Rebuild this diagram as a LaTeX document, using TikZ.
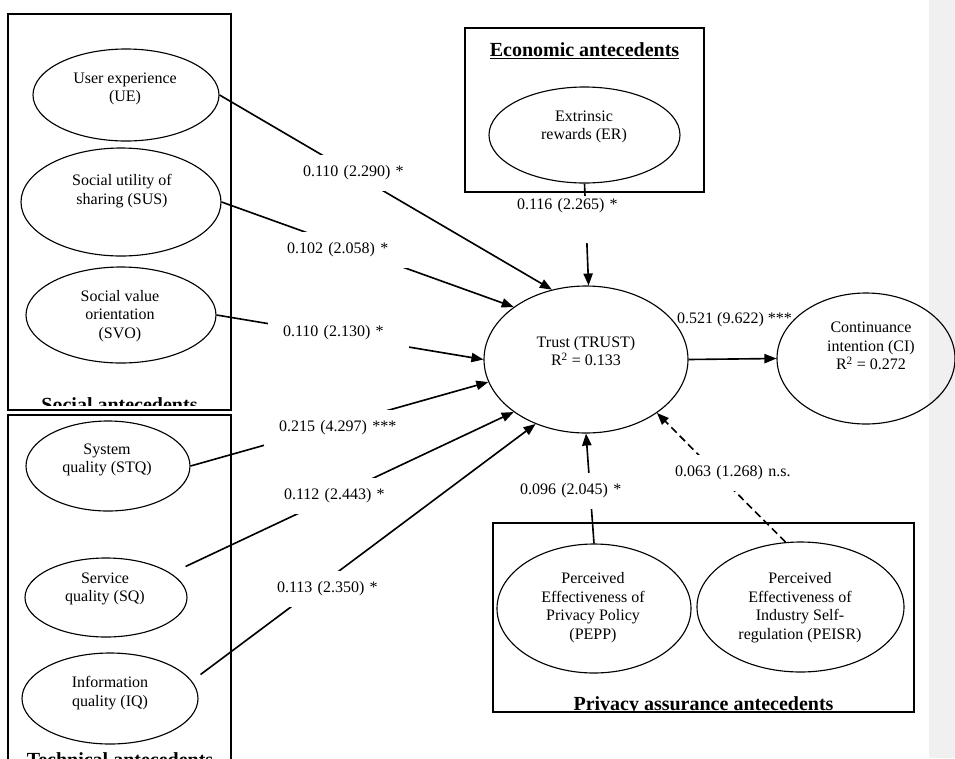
\documentclass[tikz,border=0pt]{standalone}
\usepackage{fontspec}
\setmainfont{Liberation Serif}
\usetikzlibrary{arrows.meta,shapes.geometric}
\definecolor{sidebar}{RGB}{240,240,240}
\newcommand{\bodyfont}{\fontsize{12.8}{14.8}\selectfont}
\newcommand{\headfont}{\fontsize{16}{19}\selectfont\bfseries}
\begin{document}
\begin{tikzpicture}[x=0.8pt,y=-0.8pt,
  ell/.style={draw, line width=0.9pt, ellipse, inner sep=0pt},
  txt/.style={align=center, font=\bodyfont, inner sep=0pt},
  conn/.style={line width=1.3pt, -{Triangle[length=9.6pt,width=7.4pt]}},
  lbl/.style={fill=white, inner xsep=12pt, inner ysep=0pt, text width=88.8pt,
              minimum height=28.8pt, align=left, font=\bodyfont},
  grp/.style={draw, line width=1.1pt},
  head/.style={font=\headfont, inner sep=0pt, anchor=base}]
\useasboundingbox (0,0) rectangle (955,758);
\clip (0,0) rectangle (955,758);
\fill[sidebar] (929,0) rectangle (955,758);

% group boxes
\draw[grp] (8,14) rectangle (231,410);
\draw[grp] (8,415) rectangle (231,780);
\draw[grp] (465,28) rectangle (704,192);
\draw[grp] (493,523) rectangle (914,712);

% headings
\node[head] (heco) at (584.5,56) {\underline{Economic antecedents}};
\begin{scope}
  \clip (8,14) rectangle (231,405);
  \node[head] (hsoc) at (119.5,411) {Social antecedents};
\end{scope}
\node[head] (htec) at (120,766) {Technical antecedents};
\begin{scope}
  \clip (493,523) rectangle (914,711);
  \node[head] (hpri) at (703.5,710) {Privacy assurance antecedents};
\end{scope}

% ellipses
\node[ell, minimum width=148.8pt, minimum height=73.6pt] (ue) at (126,95) {};
\node[ell, minimum width=160pt, minimum height=86.4pt] (sus) at (121,202) {};
\node[ell, minimum width=152pt, minimum height=76.8pt] (svo) at (121,315) {};
\node[ell, minimum width=131.2pt, minimum height=72pt] (stq) at (108,466) {};
\node[ell, minimum width=129.6pt, minimum height=63.2pt] (sq) at (106,597.5) {};
\node[ell, minimum width=140.8pt, minimum height=72.8pt] (iq) at (110,698.5) {};
\node[ell, minimum width=152.8pt, minimum height=76.8pt] (er) at (584.5,135) {};
\node[ell, minimum width=163.2pt, minimum height=117.6pt] (trust) at (586,359.5) {};
\node[ell, minimum width=142.4pt, minimum height=104.8pt] (ci) at (866,358.5) {};
\node[ell, minimum width=155.2pt, minimum height=103.2pt] (pepp) at (594,608.5) {};
\node[ell, minimum width=165.6pt, minimum height=104pt] (peisr) at (800.5,607) {};

% ellipse texts
\node[txt] (tue) at (125,89) {User experience\\(UE)};
\node[txt] (tsus) at (122,191) {Social utility of\\sharing (SUS)};
\node[txt] (tsvo) at (120,316) {Social value\\orientation\\(SVO)};
\node[txt] (tstq) at (107,460) {System\\quality (STQ)};
\node[txt] (tsq) at (105,589) {Service\\quality (SQ)};
\node[txt] (tiq) at (110,693) {Information\\quality (IQ)};
\node[txt] (ter) at (584,127) {Extrinsic\\rewards (ER)};
\node[txt] (ttrust) at (586,351) {Trust (TRUST)\\R\textsuperscript{2} = 0.133};
\node[txt] (tci) at (871,346) {Continuance\\intention (CI)\\R\textsuperscript{2} = 0.272};
\node[txt] (tpepp) at (593,607.5) {Perceived\\Effectiveness of\\Privacy Policy\\(PEPP)};
\node[txt] (tpeisr) at (800,607.5) {Perceived\\Effectiveness of\\Industry Self-\\regulation (PEISR)};

% connectors
\draw[conn] (ue.east) -- (trust.116);
\draw[conn] (sus.east) -- (trust.144);
\draw[conn] (svo.east) -- (trust.west);
\draw[conn] (stq.east) -- (trust.193);
\draw[conn] ([shift={(-2,-31)}]sq.east) -- (trust.216);
\draw[conn] ([shift={(2,-24)}]iq.east) -- (trust.232);
\draw[conn] (er.south) -- (trust.88);
\draw[conn] (pepp.north) -- (trust.south);
\draw[conn, dash pattern=on 6pt off 3.5pt] (peisr.103.5) -- (trust.323);
\draw[conn] (trust.east) -- (ci.west);

% path labels
\node[lbl] (l1) at (358.5,172.5) {\mbox{0.110 (2.290) *}};
\node[lbl] (l2) at (342.5,249.5) {\mbox{0.102 (2.058) *}};
\node[lbl] (l3) at (338.5,333) {\mbox{0.110 (2.130) *}};
\node[lbl] (l4) at (334.5,428) {\mbox{0.215 (4.297) ***}};
\node[lbl] (l5) at (339.5,496) {\mbox{0.112 (2.443) *}};
\node[lbl] (l6) at (332.5,589) {\mbox{0.113 (2.350) *}};
\node[lbl, text depth=24.6pt, inner ysep=2pt, minimum height=0pt, anchor=north] (l7) at (572.5,196) {\mbox{0.116 (2.265) *}};
\node[lbl] (l8) at (575.5,491) {\mbox{0.096 (2.045) *}};
\node[lbl] (l9) at (730.5,472.5) {\mbox{0.063 (1.268) n.s.}};
\node[txt] (l10) at (734.5,320) {0.521 (9.622) ***};
\end{tikzpicture}
\end{document}
